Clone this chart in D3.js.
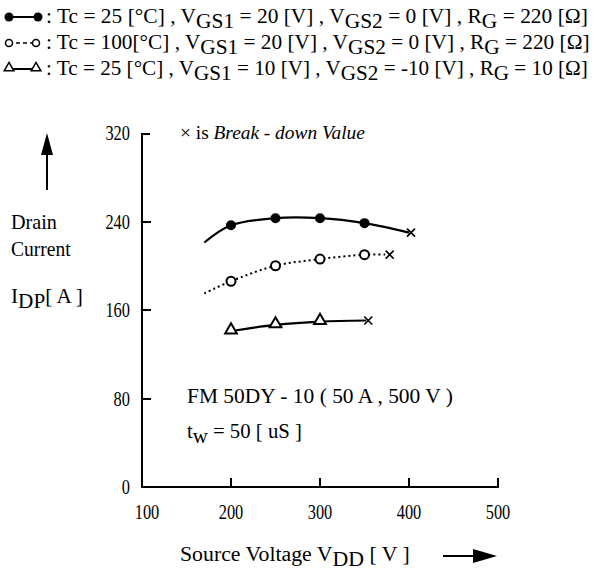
<!DOCTYPE html>
<html>
<head>
<meta charset="utf-8">
<script src="https://cdn.jsdelivr.net/npm/d3@7"></script>
<style>
  body { margin: 0; background: #fff; }
  svg { display: block; font-family: 'Liberation Serif', 'DejaVu Serif', serif; }
</style>
</head>
<body>
<svg id="g1" width="599" height="574"></svg>
<script>
// data ------------------------------
const xTicks = [100, 200, 300, 400, 500]
const yTicks = [0, 80, 160, 240, 320]

// Tc=25, VGS1=20, VGS2=0, RG=220 (filled circles)
const s1CurveV = [170, 200, 250, 300, 350, 400]
const s1CurveI = [221, 236.6, 243, 243, 238.5, 230]
const s1PointV = [200, 250, 300, 350]
const s1PointI = [236.6, 243, 243, 238.5]
const s1Break = [400, 230]

// Tc=100, VGS1=20, VGS2=0, RG=220 (open circles)
const s2CurveV = [170, 200, 250, 300, 350, 376]
const s2CurveI = [175, 186, 200, 206, 210, 210]
const s2PointV = [200, 250, 300, 350]
const s2PointI = [186, 200, 206, 210]
const s2Break = [376, 210]

// Tc=25, VGS1=10, VGS2=-10, RG=10 (triangles)
const s3CurveV = [200, 250, 300, 352]
const s3CurveI = [141, 146.5, 149.5, 150.5]
const s3PointV = [200, 250, 300]
const s3PointI = [141, 146.5, 149.5]
const s3Break = [352, 150.5]

const svg = d3.select('#g1')
const x = d3.scaleLinear().domain([100, 500]).range([142, 498])
const y = d3.scaleLinear().domain([0, 320]).range([487, 133])

// text helper: parts = [[text, sub?], ...], squeezed to a given width
function rich(g, px, py, parts, size, width, anchor) {
  const t = g.append('text').attr('font-size', size).attr('fill', '#000')
  parts.forEach(([s, sub]) => {
    t.append('tspan').attr('dy', sub === 1 ? 5 : sub === -1 ? -5 : 0).text(s)
  })
  const w = t.node().getBBox().width
  const k = typeof width === 'number' && width > 5 ? width / w : width || 1
  const dx = anchor === 'end' ? -w * k : anchor === 'middle' ? (-w * k) / 2 : 0
  t.attr('transform', `translate(${px + dx},${py}) scale(${k},1)`)
  return t
}

// axes (solid bars so they stay crisp) ------------------------------
const ax = svg.append('g').attr('fill', '#000')
const x0 = Math.round(x(100))
const y0 = Math.round(y(0))
const yTop = Math.round(y(320))
ax.append('rect').attr('x', x0 - 1).attr('y', yTop).attr('width', 2).attr('height', y0 - yTop + 1)
ax.append('rect').attr('x', x0 - 1).attr('y', yTop).attr('width', 9).attr('height', 2)
ax.append('rect').attr('x', x0 - 1).attr('y', y0 - 1).attr('width', Math.round(x(500)) - x0 + 2).attr('height', 2)
ax.selectAll('.yt').data(yTicks.filter((d) => d > 0 && d < 320)).join('rect')
  .attr('x', x0).attr('y', (d) => Math.round(y(d)) - 1).attr('width', 9).attr('height', 2)
ax.selectAll('.xt').data(xTicks.filter((d) => d > 100)).join('rect')
  .attr('x', (d) => Math.round(x(d)) - 1).attr('y', y0 - 9).attr('width', 2).attr('height', 9)

yTicks.forEach((d) => rich(svg, x(100) - 12, y(d) + 7, [[String(d)]], 21, 0.78, 'end'))
xTicks.forEach((d) => rich(svg, x(d) + (d === 100 ? 5 : 0), y(0) + 32, [[String(d)]], 21, 0.78, 'middle'))

// curves ------------------------------
const line = d3.line().x((d) => x(d[0])).y((d) => y(d[1])).curve(d3.curveCatmullRom)
const zip = (a, b) => a.map((v, i) => [v, b[i]])

svg.append('path').attr('d', line(zip(s1CurveV, s1CurveI)))
  .attr('fill', 'none').attr('stroke', '#000').attr('stroke-width', 2.2)
svg.append('path').attr('d', line(zip(s2CurveV, s2CurveI)))
  .attr('fill', 'none').attr('stroke', '#000').attr('stroke-width', 2).attr('stroke-dasharray', '2,3')
svg.append('path').attr('d', line(zip(s3CurveV, s3CurveI)))
  .attr('fill', 'none').attr('stroke', '#000').attr('stroke-width', 2.2)

const tri = d3.symbol().type(d3.symbolTriangle).size(60)

svg.selectAll('.p1').data(zip(s1PointV, s1PointI)).join('circle')
  .attr('cx', (d) => x(d[0])).attr('cy', (d) => y(d[1])).attr('r', 5).attr('fill', '#000')
svg.selectAll('.p2').data(zip(s2PointV, s2PointI)).join('circle')
  .attr('cx', (d) => x(d[0])).attr('cy', (d) => y(d[1])).attr('r', 4.5)
  .attr('fill', '#fff').attr('stroke', '#000').attr('stroke-width', 2)
svg.selectAll('.p3').data(zip(s3PointV, s3PointI)).join('path')
  .attr('d', tri).attr('transform', (d) => `translate(${x(d[0])},${y(d[1]) - 1})`)
  .attr('fill', '#fff').attr('stroke', '#000').attr('stroke-width', 2)

// break-down crosses
const cross = (px, py) => `M${px - 4},${py - 4}L${px + 4},${py + 4}M${px - 4},${py + 4}L${px + 4},${py - 4}`
svg.selectAll('.bx').data([s1Break, s2Break, s3Break]).join('path')
  .attr('d', (d) => cross(x(d[0]) + 2, y(d[1])))
  .attr('stroke', '#000').attr('stroke-width', 1.6)

// legend ------------------------------
const lg = svg.append('g')
const rows = [17, 43, 69]
lg.append('line').attr('x1', 9).attr('x2', 38).attr('y1', rows[0]).attr('y2', rows[0]).attr('stroke', '#000').attr('stroke-width', 2)
lg.selectAll('.l1').data([9, 38]).join('circle').attr('cx', (d) => d).attr('cy', rows[0]).attr('r', 4.5).attr('fill', '#000')
lg.append('line').attr('x1', 9).attr('x2', 36).attr('y1', rows[1]).attr('y2', rows[1]).attr('stroke', '#000').attr('stroke-width', 1.5).attr('stroke-dasharray', '4,3')
lg.selectAll('.l2').data([9, 36]).join('circle').attr('cx', (d) => d).attr('cy', rows[1]).attr('r', 3.5).attr('fill', '#fff').attr('stroke', '#000').attr('stroke-width', 1.5)
lg.append('line').attr('x1', 9).attr('x2', 36).attr('y1', rows[2]).attr('y2', rows[2]).attr('stroke', '#000').attr('stroke-width', 2)
lg.selectAll('.l3').data([9, 36]).join('path').attr('d', d3.symbol().type(d3.symbolTriangle).size(40))
  .attr('transform', (d) => `translate(${d},${rows[2] - 1})`).attr('fill', '#fff').attr('stroke', '#000').attr('stroke-width', 1.5)

rich(lg, 46, rows[0] + 6, [[': Tc = 25 [°C] , V'], ['GS1', 1], [' = 20 [V] , V', -1], ['GS2', 1], [' = 0 [V] , R', -1], ['G', 1], [' = 220 [Ω]', -1]], 21, 542)
rich(lg, 46, rows[1] + 6, [[': Tc = 100[°C] , V'], ['GS1', 1], [' = 20 [V] , V', -1], ['GS2', 1], [' = 0 [V] , R', -1], ['G', 1], [' = 220 [Ω]', -1]], 21, 544)
rich(lg, 46, rows[2] + 6, [[': Tc = 25 [°C] , V'], ['GS1', 1], [' = 10 [V] , V', -1], ['GS2', 1], [' = -10 [V] , R', -1], ['G', 1], [' = 10 [Ω]', -1]], 21, 542)

// annotations ------------------------------
const note = svg.append('text').attr('font-size', 19)
note.append('tspan').text('× is ')
note.append('tspan').attr('font-style', 'italic').text('Break - down Value')
note.attr('transform', `translate(180,139) scale(${185 / note.node().getBBox().width},1)`)
rich(svg, 187, 403, [['FM 50DY - 10 ( 50 A , 500 V )']], 21, 266)
rich(svg, 187, 438, [['t'], ['w', 1], [' = 50 [ uS ]', -1]], 21, 115)

// axis titles
rich(svg, 11, 229, [['Drain']], 20, 46)
rich(svg, 11, 256, [['Current']], 20, 60)
rich(svg, 11, 303, [['I'], ['DP', 1], ['[ A ]', -1]], 20, 72)
rich(svg, 180, 561, [['Source Voltage   V'], ['DD', 1], [' [ V ]', -1]], 20, 230)

// arrows
svg.append('rect').attr('x', 46).attr('y', 150).attr('width', 2).attr('height', 40).attr('fill', '#000')
svg.append('path').attr('d', 'M47,133L53,155H41Z').attr('fill', '#000')
svg.append('rect').attr('x', 443).attr('y', 555).attr('width', 38).attr('height', 2).attr('fill', '#000')
svg.append('path').attr('d', 'M497,556L473,549V563Z').attr('fill', '#000')
</script>
</body>
</html>
